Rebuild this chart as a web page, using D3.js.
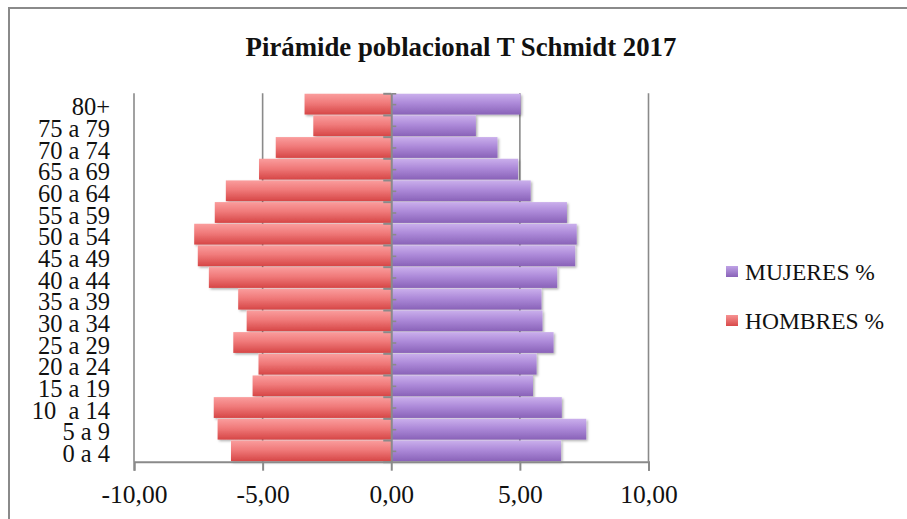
<!DOCTYPE html>
<html>
<head>
<meta charset="utf-8">
<script src="https://cdn.jsdelivr.net/npm/d3@7"></script>
<style>
  html, body { margin: 0; padding: 0; background: #fff; }
  svg { display: block; }
  text { font-family: "Liberation Serif", "DejaVu Serif", serif; fill: #111; }
</style>
</head>
<body>
<svg id="chart" width="907" height="519"></svg>
<script>
// ---- data ----
const categories = ["0 a 4", "5 a 9", "10  a 14", "15 a 19", "20 a 24", "25 a 29", "30 a 34",
  "35 a 39", "40 a 44", "45 a 49", "50 a 54", "55 a 59", "60 a 64", "65 a 69", "70 a 74",
  "75 a 79", "80+"];
const hombres = [-6.23, -6.75, -6.90, -5.39, -5.16, -6.14, -5.62, -5.95, -7.09, -7.52,
  -7.66, -6.86, -6.43, -5.14, -4.49, -3.03, -3.37];
const mujeres = [6.60, 7.58, 6.63, 5.51, 5.65, 6.31, 5.88, 5.84, 6.45, 7.15,
  7.21, 6.83, 5.42, 4.93, 4.13, 3.29, 5.03];
const xTicks = [-10, -5, 0, 5, 10];
const gridTicks = [-10, -5, 5, 10];
const seriesNames = ["MUJERES %", "HOMBRES %"];
const titleText = "Pirámide poblacional T Schmidt 2017";

// ---- layout ----
const svg = d3.select("#chart");
const pLeft = 134, pRight = 648.5, pTop = 93.3, pBottom = 461.7;
const gray = "#8a8a8a";

const x = d3.scaleLinear().domain([-10, 10]).range([pLeft, pRight]);
const y = d3.scaleBand().domain(categories).range([pBottom, pTop]).paddingInner(0.04).paddingOuter(0.02);
const yLin = d3.scaleLinear().domain([0, categories.length]).range([pBottom, pTop]);

const locale = d3.formatLocale({decimal: ",", thousands: ".", grouping: [3], currency: ["", ""], minus: "-"});
const fmt = locale.format(".2f");

// outer frame
svg.append("rect").attr("x", 9).attr("y", 8).attr("width", 920).attr("height", 530)
  .attr("fill", "none").attr("stroke", gray).attr("stroke-width", 2);

// defs
const defs = svg.append("defs");
function grad(id, stops) {
  const g = defs.append("linearGradient").attr("id", id).attr("x1", 0).attr("y1", 0).attr("x2", 0).attr("y2", 1);
  stops.forEach(s => g.append("stop").attr("offset", s[0]).attr("stop-color", s[1]));
}
grad("gRed", [[0, "#fa9d9d"], [0.45, "#f07a7a"], [1, "#d64646"]]);
grad("gPur", [[0, "#caafec"], [0.45, "#ad8ad9"], [1, "#8962b8"]]);
grad("lRed", [[0, "#f79292"], [1, "#d84a4a"]]);
grad("lPur", [[0, "#bfa2e6"], [1, "#8962b8"]]);
const f = defs.append("filter").attr("id", "shadow").attr("x", "-5%").attr("y", "-20%").attr("width", "115%").attr("height", "160%");
f.append("feDropShadow").attr("dx", 1.5).attr("dy", 1.5).attr("stdDeviation", 1)
  .attr("flood-color", "#000").attr("flood-opacity", 0.3);

// title
svg.append("text").attr("x", 461).attr("y", 55.5).attr("text-anchor", "middle")
  .style("font-weight", "bold").style("font-size", "26.8px").text(titleText);

// gridlines
svg.append("g").selectAll("line").data(gridTicks).join("line")
  .attr("x1", d => x(d)).attr("x2", d => x(d)).attr("y1", pTop).attr("y2", pBottom)
  .attr("stroke", gray).attr("stroke-width", 1.6);

// bars
const bars = svg.append("g").attr("filter", "url(#shadow)");
bars.selectAll("rect.h").data(hombres).join("rect").attr("class", "h")
  .attr("x", d => x(d)).attr("width", d => x(0) - x(d))
  .attr("y", (d, i) => y(categories[i])).attr("height", y.bandwidth())
  .attr("fill", "url(#gRed)");
bars.selectAll("rect.m").data(mujeres).join("rect").attr("class", "m")
  .attr("x", x(0)).attr("width", d => x(d) - x(0))
  .attr("y", (d, i) => y(categories[i])).attr("height", y.bandwidth())
  .attr("fill", "url(#gPur)");

// x axis
const xAxis = svg.append("g").attr("transform", `translate(0,${pBottom})`)
  .call(d3.axisBottom(x).tickValues(xTicks).tickFormat(fmt).tickSizeOuter(0).tickSize(9).tickPadding(14));
xAxis.select(".domain").attr("stroke", gray).attr("stroke-width", 2);
xAxis.selectAll(".tick line").attr("stroke", gray).attr("stroke-width", 2);
xAxis.selectAll("text").style("font-size", "25.5px").attr("fill", "#111")
  .attr("font-family", null).attr("dy", "0.71em");

// vertical category axis at x=0: major ticks at boundaries (left), minor at centers (right)
const yMaj = svg.append("g").attr("transform", `translate(${x(0)},0)`)
  .call(d3.axisLeft(yLin).tickValues(d3.range(0, categories.length + 1)).tickFormat("").tickSize(8).tickSizeOuter(0));
yMaj.select(".domain").attr("stroke", gray).attr("stroke-width", 2);
yMaj.selectAll(".tick line").attr("stroke", gray).attr("stroke-width", 2);
const yMin = svg.append("g").attr("transform", `translate(${x(0)},0)`)
  .call(d3.axisRight(yLin).tickValues(d3.range(0.5, categories.length).concat([categories.length])).tickFormat("").tickSize(5).tickSizeOuter(0));
yMin.select(".domain").remove();
yMin.selectAll(".tick line").attr("stroke", gray).attr("stroke-width", 1.6);

// category labels
const yLab = svg.append("g").attr("transform", `translate(110,0)`)
  .call(d3.axisLeft(y).tickSize(0).tickPadding(0));
yLab.select(".domain").remove();
yLab.selectAll("text").style("font-size", "24.5px").style("white-space", "pre")
  .attr("fill", "#111").attr("font-family", null).attr("dy", "0.45em");

// legend
const legendY = [272, 321];
const legendFill = ["url(#lPur)", "url(#lRed)"];
const lg = svg.append("g");
lg.selectAll("rect").data(seriesNames).join("rect")
  .attr("x", 726).attr("y", (d, i) => legendY[i] - 6).attr("width", 12).attr("height", 11)
  .attr("fill", (d, i) => legendFill[i]);
lg.selectAll("text").data(seriesNames).join("text")
  .attr("x", 745).attr("y", (d, i) => legendY[i]).attr("dy", "0.35em")
  .style("font-size", "23.5px").text(d => d);
</script>
</body>
</html>
